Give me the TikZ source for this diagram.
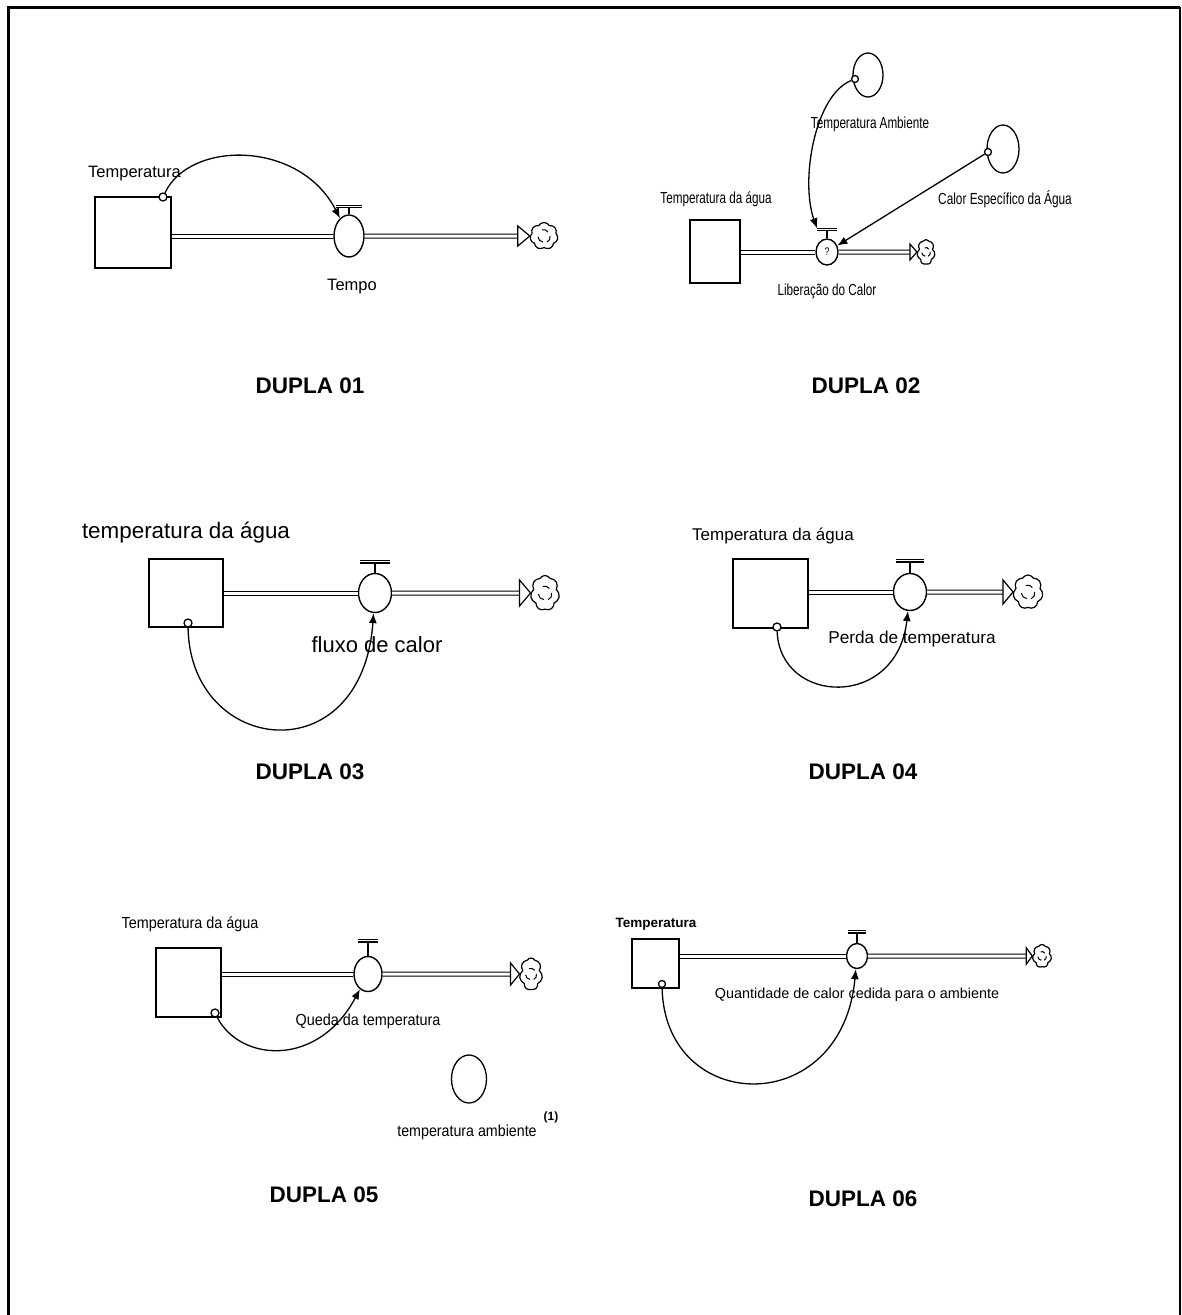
\documentclass[tikz,border=0pt]{standalone}
\usepackage{fontspec}
\setmainfont{Liberation Sans}
\usepackage{graphicx}
\usetikzlibrary{shapes.geometric,shapes.symbols,arrows.meta,calc}
\tikzset{
 stock/.style={draw, rectangle, line width=1.5pt, inner sep=0pt},
 valve/.style={draw, ellipse, line width=1.4pt, inner sep=0pt, fill=white},
 aux/.style={draw, ellipse, line width=1.3pt, inner sep=0pt},
 cloudsym/.style={draw, cloud, cloud puffs=7, cloud puff arc=120, cloud ignores aspect, line width=1.2pt, inner sep=0pt, fill=white},
 pipe/.style={draw, double, line width=1pt, double distance=3pt},
 conn/.style={line width=1.3pt, -{Latex[length=10pt,width=8pt]}},
 srcdot/.style={circle, draw, fill=white, line width=1.3pt, inner sep=0pt, minimum size=8pt},
 lab/.style={inner sep=0pt, anchor=base},
 title/.style={inner sep=0pt, font=\bfseries\fontsize{22.5}{26}\selectfont},
}
\newcommand\vhandle[3]{%
 \draw[line width=2.5pt] (#1.north) -- ++(0,-#2);
 \draw[line width=1.2pt, double, double distance=1pt] ($(#1.north)+(-#3,-#2)$) -- ($(#1.north)+(#3,-#2)$);}
\newcommand\flowline[4]{%
 \coordinate (#2L) at (#1.east |- #2.center);
 \coordinate (#2R) at ($(#3.west)+(-#4,0)$);
 \draw[pipe] (#2L) -- (#2.west);
 \draw[pipe] (#2.east) -- (#2R);}
\newcommand\flowtip[3]{%
 \draw[line width=1.2pt, fill=white] (#1.west) -- ++(-#2,-#3) -- ++(0,2*#3) -- cycle;}
\newcommand\cloudmarks[2]{%
 \draw[line width=1pt] ($(#1)+(-2*#2,-6*#2)$) to[bend left=40] ($(#1)+(4*#2,-4*#2)$);
 \draw[line width=1pt] ($(#1)+(6*#2,0)$) to[bend left=40] ($(#1)+(3*#2,6*#2)$);
 \draw[line width=1pt] ($(#1)+(-1*#2,6*#2)$) to[bend left=40] ($(#1)+(-6*#2,1*#2)$);}
\begin{document}
\begin{tikzpicture}[x=1pt,y=-1pt]
\useasboundingbox (0,0) rectangle (1182,1315);
% frame
\draw[line width=3pt] (8,1315) -- (8,7) -- (1180,7);
\draw[line width=2pt] (1180,7) -- (1180,1315);

% ---------- DUPLA 01 ----------
\node[stock, minimum width=76, minimum height=71] (s1) at (133,232.5) {};
\node[valve, minimum width=30, minimum height=42] (v1) at (349,236) {};
\node[cloudsym, minimum width=28, minimum height=27] (c1) at (544,236) {};
\node[srcdot] (d1) at (163,197) {};
\flowline{s1}{v1}{c1}{12}
\flowtip{c1}{12}{10}
\vhandle{v1}{8}{13}
\cloudmarks{c1}{1}
\draw[conn] (d1) .. controls (190,140) and (300,140) .. (v1);
\node[lab, font=\fontsize{16.5}{18}\selectfont] (t1a) at (134.5,177) {Temperatura};
\node[lab, font=\fontsize{16.5}{18}\selectfont] (t1b) at (352,290) {Tempo};
\node[title] (h1) at (310,386) {DUPLA 01};

% ---------- DUPLA 02 ----------
\node[stock, minimum width=50, minimum height=63] (s2) at (715,251.5) {};
\node[valve, minimum width=22, minimum height=26, font=\fontsize{11}{12}\selectfont] (v2) at (827,252) {\scalebox{0.8}[1]{?}};
\node[cloudsym, minimum width=18, minimum height=25] (c2) at (926,252) {};
\node[aux, minimum width=30, minimum height=44] (a2) at (868,75) {};
\node[aux, minimum width=32, minimum height=48] (k2) at (1003,149) {};
\node[srcdot, minimum size=7pt] (da2) at (855,79) {};
\node[srcdot, minimum size=7pt] (dk2) at (988,152) {};
\flowline{s2}{v2}{c2}{7}
\flowtip{c2}{7}{8}
\vhandle{v2}{9}{10}
\cloudmarks{c2}{0.7}
\draw[conn] (da2) .. controls (815,95) and (800,180) .. ([shift={(-10,-10)}]v2.north);
\draw[conn] (dk2) -- (v2);
\node[lab, font=\fontsize{16}{18}\selectfont] (t2a) at (716,203) {\scalebox{0.73}[1]{Temperatura da água}};
\node[lab, font=\fontsize{16}{18}\selectfont] (t2b) at (870,128) {\scalebox{0.73}[1]{Temperatura Ambiente}};
\node[lab, font=\fontsize{16}{18}\selectfont] (t2c) at (1005,204) {\scalebox{0.74}[1]{Calor Específico da Água}};
\node[lab, font=\fontsize{16}{18}\selectfont] (t2d) at (827,295) {\scalebox{0.73}[1]{Liberação do Calor}};
\node[title] (h2) at (866,386) {DUPLA 02};

% ---------- DUPLA 03 ----------
\node[stock, minimum width=74, minimum height=68] (s3) at (186,593) {};
\node[valve, minimum width=33, minimum height=39] (v3) at (375,593) {};
\node[cloudsym, minimum width=29, minimum height=35] (c3) at (545,593) {};
\node[srcdot] (d3) at (188,623) {};
\flowline{s3}{v3}{c3}{11}
\flowtip{c3}{11}{13}
\vhandle{v3}{11}{15}
\cloudmarks{c3}{1.1}
\draw[conn] (d3) .. controls (190,755) and (362,775) .. (v3);
\node[lab, font=\fontsize{22.4}{25}\selectfont] (t3a) at (186,538) {temperatura da água};
\node[lab, font=\fontsize{22}{25}\selectfont] (t3b) at (377,652) {fluxo de calor};
\node[title] (h3) at (310,772) {DUPLA 03};

% ---------- DUPLA 04 ----------
\node[stock, minimum width=75, minimum height=69] (s4) at (770.5,593.5) {};
\node[valve, minimum width=33, minimum height=37] (v4) at (910,592) {};
\node[cloudsym, minimum width=30, minimum height=34] (c4) at (1028,592) {};
\node[srcdot] (d4) at (777,627) {};
\flowline{s4}{v4}{c4}{10}
\flowtip{c4}{10}{12}
\vhandle{v4}{12}{14}
\cloudmarks{c4}{1.1}
\draw[conn] (d4) .. controls (780,705) and (897,710) .. (v4);
\node[lab, font=\fontsize{17}{19}\selectfont] (t4a) at (773,540) {Temperatura da água};
\node[lab, font=\fontsize{17.2}{19}\selectfont] (t4b) at (912,643) {Perda de temperatura};
\node[title] (h4) at (863,772) {DUPLA 04};

% ---------- DUPLA 05 ----------
\node[stock, minimum width=65, minimum height=69] (s5) at (188.5,982.5) {};
\node[valve, minimum width=28, minimum height=35] (v5) at (368,974) {};
\node[cloudsym, minimum width=23, minimum height=32] (c5) at (531,974) {};
\node[aux, minimum width=35, minimum height=48] (a5) at (469,1079) {};
\node[srcdot] (d5) at (215,1013) {};
\flowline{s5}{v5}{c5}{9}
\flowtip{c5}{9}{11}
\vhandle{v5}{15}{10}
\cloudmarks{c5}{0.9}
\draw[conn] (d5) .. controls (240,1062) and (318,1068) .. (v5);
\node[lab, font=\fontsize{16}{18}\selectfont] (t5a) at (190,928) {\scalebox{0.9}[1]{Temperatura da água}};
\node[lab, font=\fontsize{16}{18}\selectfont] (t5b) at (368,1025) {\scalebox{0.9}[1]{Queda da temperatura}};
\node[lab, font=\fontsize{16}{18}\selectfont] (t5c) at (467,1136) {\scalebox{0.89}[1]{temperatura ambiente}};
\node[lab, font=\bfseries\fontsize{12}{14}\selectfont] (t5d) at (551,1120) {(1)};
\node[title] (h5) at (324,1195) {DUPLA 05};

% ---------- DUPLA 06 ----------
\node[stock, minimum width=47, minimum height=49] (s6) at (655.5,963.5) {};
\node[valve, minimum width=21, minimum height=25] (v6) at (857,956) {};
\node[cloudsym, minimum width=19, minimum height=23] (c6) at (1042,956) {};
\node[srcdot, minimum size=7pt] (d6) at (662,984) {};
\flowline{s6}{v6}{c6}{6}
\flowtip{c6}{6}{8}
\vhandle{v6}{11}{9}
\cloudmarks{c6}{0.7}
\draw[conn] (d6) .. controls (665,1115) and (842,1120) .. (v6);
\node[lab, font=\bfseries\fontsize{13.5}{16}\selectfont] (t6a) at (656,927) {Temperatura};
\node[lab, font=\fontsize{14.4}{17}\selectfont] (t6b) at (857,998) {Quantidade de calor cedida para o ambiente};
\node[title] (h6) at (863,1199) {DUPLA 06};
\end{tikzpicture}
\end{document}
